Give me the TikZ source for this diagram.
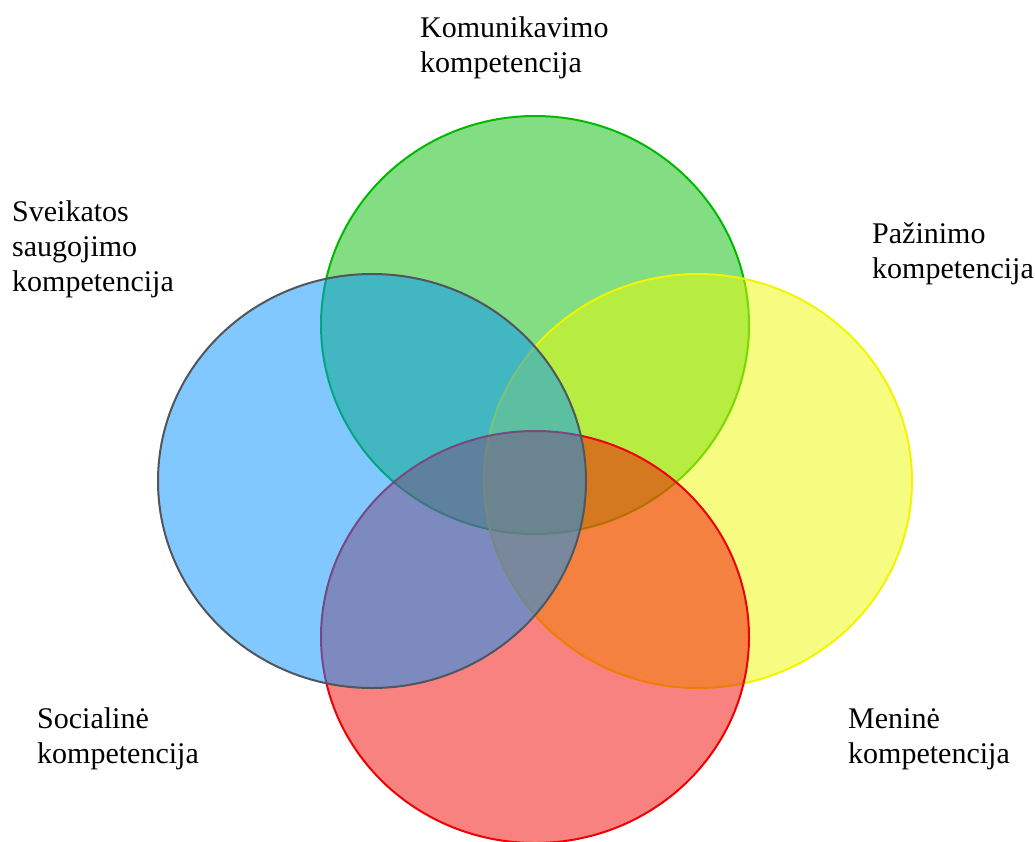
\documentclass[tikz,border=0pt]{standalone}
\usepackage{fontspec}
\setmainfont{Liberation Serif}
\definecolor{gfill}{RGB}{8,190,8}
\definecolor{gdraw}{RGB}{0,185,0}
\definecolor{yfill}{RGB}{236,250,0}
\definecolor{ydraw}{RGB}{240,245,0}
\definecolor{rfill}{RGB}{242,6,0}
\definecolor{rdraw}{RGB}{240,0,0}
\definecolor{bfill}{RGB}{2,146,255}
\definecolor{bdraw}{RGB}{80,86,92}
\begin{document}
\begin{tikzpicture}[x=1pt,y=-1pt,
  blob/.style={line width=2pt,fill opacity=0.5},
  lbl/.style={anchor=base west,inner sep=0pt,align=left,font=\fontsize{30}{35}\selectfont}]
\useasboundingbox (0,0) rectangle (1035,841);
\path[blob,draw=gdraw,fill=gfill] (535,325) ellipse [x radius=214,y radius=209];
\path[blob,draw=ydraw,fill=yfill] (698,481) ellipse [x radius=214,y radius=207];
\path[blob,draw=rdraw,fill=rfill] (535,637) ellipse [x radius=214,y radius=206];
\path[blob,draw=bdraw,fill=bfill] (372,481) ellipse [x radius=214,y radius=207];
\node[lbl] (kom) at (420,72) {Komunikavimo\\kompetencija};
\node[lbl] (sve) at (12,291) {Sveikatos\\saugojimo\\kompetencija};
\node[lbl] (paz) at (872,278) {Pažinimo\\kompetencija};
\node[lbl] (soc) at (37,763) {Socialinė\\kompetencija};
\node[lbl] (men) at (848,763) {Meninė\\kompetencija};
\end{tikzpicture}
\end{document}
